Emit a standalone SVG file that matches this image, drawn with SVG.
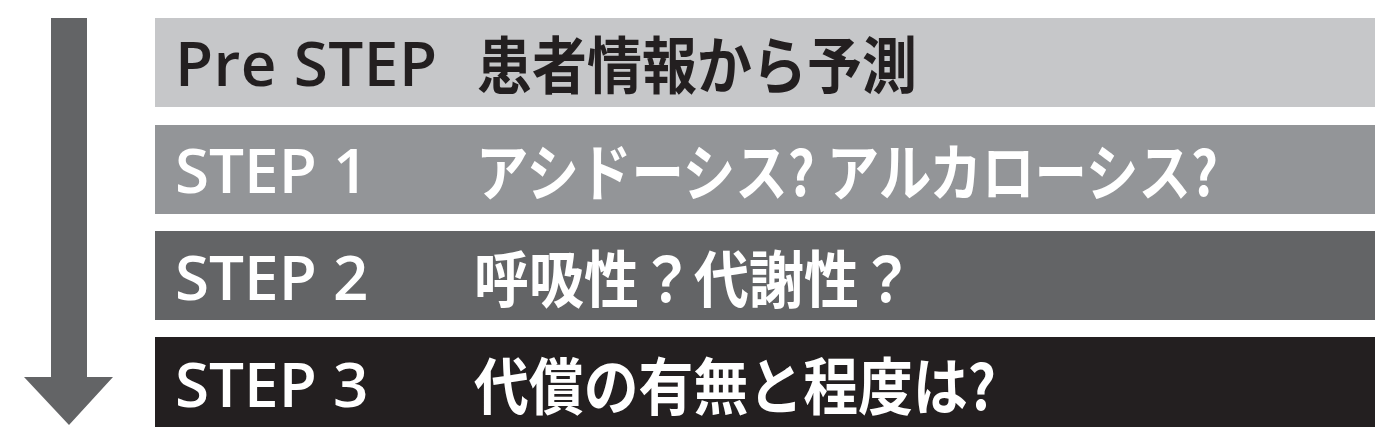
<svg xmlns="http://www.w3.org/2000/svg" width="1400" height="447" viewBox="0 0 1400 447">
<style>
.lat{font-family:"Open Sans","Noto Sans",sans-serif;font-weight:600;font-size:62px}
.jp{font-family:"Noto Sans CJK JP",sans-serif;font-weight:700;font-size:62px}
.dk{fill:#231f20}
.wt{fill:#ffffff}
</style>
<rect width="1400" height="447" fill="#ffffff"/>
<g id="connectors">
<path d="M51,18 H87 V377 H113 L69,425 L24,377 H51 Z" fill="#636466"/>
</g>
<g id="prestep">
<rect x="155" y="18" width="1220" height="89" fill="#c6c7c9"/>
<text class="lat dk" x="175" y="86" textLength="262">Pre STEP</text>
<text class="jp dk" x="477" y="89" textLength="440" lengthAdjust="spacingAndGlyphs">患者情報から予測</text>
</g>
<g id="step1">
<rect x="155" y="125" width="1220" height="89" fill="#939598"/>
<text class="lat wt" x="175" y="193">STEP 1</text>
<text class="jp wt" x="476" y="196" textLength="742" lengthAdjust="spacingAndGlyphs">アシドーシス? アルカローシス?</text>
</g>
<g id="step2">
<rect x="155" y="231" width="1220" height="89" fill="#636466"/>
<text class="lat wt" x="175" y="300">STEP 2</text>
<text class="jp wt" x="474" y="303" textLength="440" lengthAdjust="spacingAndGlyphs">呼吸性？代謝性？</text>
</g>
<g id="step3">
<rect x="155" y="337" width="1220" height="90" fill="#231f20"/>
<text class="lat wt" x="175" y="407">STEP 3</text>
<text class="jp wt" x="474" y="410" textLength="522" lengthAdjust="spacingAndGlyphs">代償の有無と程度は?</text>
</g>
</svg>
